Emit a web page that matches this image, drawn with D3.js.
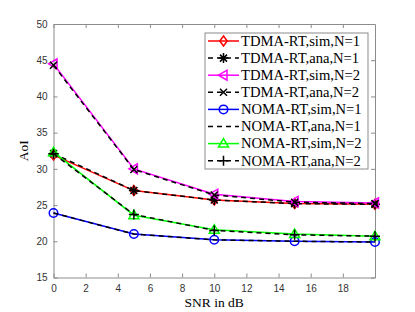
<!DOCTYPE html>
<html lang="en">
<head>
  <meta charset="UTF-8">
  <title>AoI vs SNR</title>
  <script src="https://d3js.org/d3.v7.min.js"></script>
  <style>
    body { margin: 0; background: #fff; }
    svg { display: block; }
  </style>
</head>
<body>
  <svg id="chart" width="415" height="312"></svg>
  <script>
    // data
    const snr = [0, 5, 10, 15, 20];
    const tdmaSimN1 = [31.9, 27.0, 25.7, 25.2, 25.1];
    const tdmaAnaN1 = [32.1, 27.0, 25.7, 25.2, 25.1];
    const tdmaSimN2 = [44.5, 30.0, 26.5, 25.5, 25.3];
    const tdmaAnaN2 = [44.3, 29.9, 26.4, 25.4, 25.2];
    const nomaSimN1 = [23.9, 21.0, 20.2, 20.0, 19.9];
    const nomaAnaN1 = [23.9, 21.0, 20.2, 20.0, 19.9];
    const nomaSimN2 = [32.3, 23.6, 21.6, 21.0, 20.7];
    const nomaAnaN2 = [32.1, 23.7, 21.5, 20.9, 20.7];
    const xTicks = [0, 2, 4, 6, 8, 10, 12, 14, 16, 18];
    const yTicks = [15, 20, 25, 30, 35, 40, 45, 50];

    const series = [
      { name: 'TDMA-RT,sim,N=1', values: tdmaSimN1, color: '#ff0000', dash: null, marker: 'diamond' },
      { name: 'TDMA-RT,ana,N=1', values: tdmaAnaN1, color: '#000', dash: '5,4', marker: 'asterisk' },
      { name: 'TDMA-RT,sim,N=2', values: tdmaSimN2, color: '#ff00ff', dash: null, marker: 'triLeft' },
      { name: 'TDMA-RT,ana,N=2', values: tdmaAnaN2, color: '#000', dash: '5,4', marker: 'cross' },
      { name: 'NOMA-RT,sim,N=1', values: nomaSimN1, color: '#0000ff', dash: null, marker: 'circle' },
      { name: 'NOMA-RT,ana,N=1', values: nomaAnaN1, color: '#000', dash: '5,4', marker: null },
      { name: 'NOMA-RT,sim,N=2', values: nomaSimN2, color: '#00ff00', dash: null, marker: 'triUp' },
      { name: 'NOMA-RT,ana,N=2', values: nomaAnaN2, color: '#000', dash: '5,4', marker: 'plus' }
    ];

    const svg = d3.select('#chart');
    const pLeft = 53.5, pRight = 375, pTop = 24, pBottom = 277.5;

    const x = d3.scaleLinear().domain([0, 20]).range([pLeft, pRight]);
    const y = d3.scaleLinear().domain([15, 50]).range([pBottom, pTop]);

    const axisColor = '#8c8c8c';
    const tickFont = '"Liberation Sans", Arial, sans-serif';
    const serif = '"Liberation Serif", "DejaVu Serif", serif';

    // axes with inward ticks
    function styleAxis(g) {
      g.select('.domain').attr('stroke', axisColor);
      g.selectAll('.tick line').attr('stroke', axisColor);
      g.selectAll('.tick text').attr('fill', '#333').style('font-family', tickFont).style('font-size', '10px');
    }
    svg.append('g').attr('transform', `translate(0,${pBottom})`)
      .call(d3.axisBottom(x).tickValues(xTicks).tickSizeInner(-4).tickSizeOuter(0).tickPadding(7))
      .call(styleAxis);
    svg.append('g').attr('transform', `translate(0,${pTop})`)
      .call(d3.axisTop(x).tickValues(xTicks).tickSizeInner(-4).tickSizeOuter(0).tickFormat(''))
      .call(styleAxis);
    svg.append('g').attr('transform', `translate(${pLeft},0)`)
      .call(d3.axisLeft(y).tickValues(yTicks).tickSizeInner(-4).tickSizeOuter(0).tickPadding(6))
      .call(styleAxis);
    svg.append('g').attr('transform', `translate(${pRight},0)`)
      .call(d3.axisRight(y).tickValues(yTicks).tickSizeInner(-4).tickSizeOuter(0).tickFormat(''))
      .call(styleAxis);

    // axis labels
    svg.append('text').attr('x', (pLeft + pRight) / 2).attr('y', 306.5)
      .attr('text-anchor', 'middle').style('font-family', serif).style('font-size', '13.5px')
      .text('SNR in dB');
    svg.append('text').attr('transform', `translate(28,${(pTop + pBottom) / 2}) rotate(-90)`)
      .attr('text-anchor', 'middle').style('font-family', serif).style('font-size', '13.5px')
      .text('AoI');

    function markerPath(type, s) {
      switch (type) {
        case 'diamond': return `M0,${-s}L${s * 0.75},0L0,${s}L${-s * 0.75},0Z`;
        case 'triLeft': return `M${-s},0L${s * 0.7},${-s}L${s * 0.7},${s}Z`;
        case 'triUp': return `M0,${-s}L${s},${s * 0.7}L${-s},${s * 0.7}Z`;
        case 'circle': return d3.symbol(d3.symbolCircle, Math.PI * s * s * 0.72)();
        case 'cross': return `M${-s * 0.7},${-s * 0.7}L${s * 0.7},${s * 0.7}M${-s * 0.7},${s * 0.7}L${s * 0.7},${-s * 0.7}`;
        case 'plus': return `M${-s},0L${s},0M0,${-s}L0,${s}`;
        case 'asterisk': {
          const a = s * 0.7;
          return `M${-s},0L${s},0M0,${-s}L0,${s}M${-a},${-a}L${a},${a}M${-a},${a}L${a},${-a}`;
        }
      }
      return '';
    }

    const line = d3.line().x((d, i) => x(snr[i])).y(d => y(d));
    const plot = svg.append('g');

    series.forEach(s => {
      plot.append('path').datum(s.values)
        .attr('d', line).attr('fill', 'none')
        .attr('stroke', s.color).attr('stroke-width', 1.5)
        .attr('stroke-dasharray', s.dash);
      if (s.marker) {
        plot.selectAll(null).data(s.values).enter().append('path')
          .attr('transform', (d, i) => `translate(${x(snr[i])},${y(d)})`)
          .attr('d', markerPath(s.marker, 5))
          .attr('fill', 'none').attr('stroke', s.color).attr('stroke-width', 1.5);
      }
    });

    // legend
    const lg = svg.append('g');
    const lx = 205, ly = 33, rowH = 17.1;
    lg.append('rect').attr('x', lx).attr('y', ly).attr('width', 163).attr('height', 136)
      .attr('fill', '#fff').attr('stroke', axisColor).attr('stroke-width', 1);
    series.forEach((s, i) => {
      const cy = ly + 8 + i * rowH;
      lg.append('line').attr('x1', lx + 3).attr('x2', lx + 34).attr('y1', cy).attr('y2', cy)
        .attr('stroke', s.color).attr('stroke-width', 1.5).attr('stroke-dasharray', s.dash);
      if (s.marker) {
        lg.append('path').attr('transform', `translate(${lx + 18.5},${cy})`)
          .attr('d', markerPath(s.marker, 5))
          .attr('fill', 'none').attr('stroke', s.color).attr('stroke-width', 1.5);
      }
      lg.append('text').attr('x', lx + 36).attr('y', cy + 4.8)
        .style('font-family', serif).style('font-size', '14.6px').text(s.name);
    });
  </script>
</body>
</html>
